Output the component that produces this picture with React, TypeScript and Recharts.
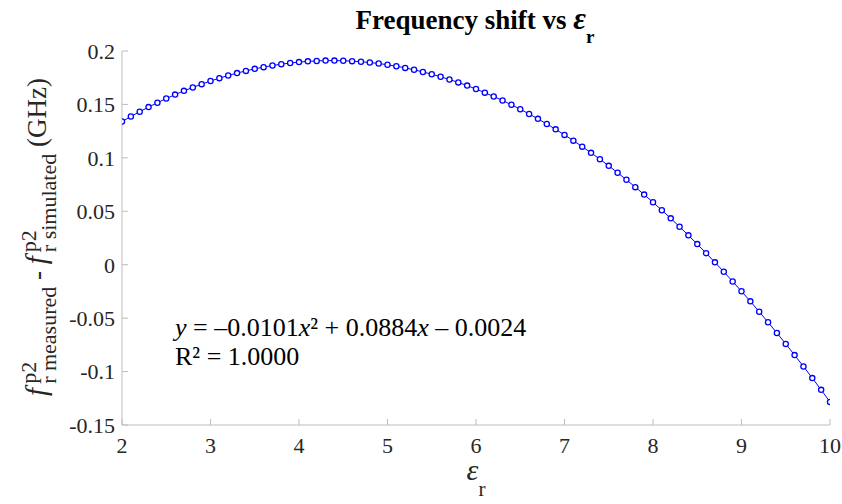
import React from 'react';
import { LineChart, Line, XAxis, YAxis } from 'recharts';

// relative permittivity (x) sampled every 0.1
const epsR = [
  2.0, 2.1, 2.2, 2.3, 2.4, 2.5, 2.6, 2.7, 2.8, 2.9,
  3.0, 3.1, 3.2, 3.3, 3.4, 3.5, 3.6, 3.7, 3.8, 3.9,
  4.0, 4.1, 4.2, 4.3, 4.4, 4.5, 4.6, 4.7, 4.8, 4.9,
  5.0, 5.1, 5.2, 5.3, 5.4, 5.5, 5.6, 5.7, 5.8, 5.9,
  6.0, 6.1, 6.2, 6.3, 6.4, 6.5, 6.6, 6.7, 6.8, 6.9,
  7.0, 7.1, 7.2, 7.3, 7.4, 7.5, 7.6, 7.7, 7.8, 7.9,
  8.0, 8.1, 8.2, 8.3, 8.4, 8.5, 8.6, 8.7, 8.8, 8.9,
  9.0, 9.1, 9.2, 9.3, 9.4, 9.5, 9.6, 9.7, 9.8, 9.9,
  10.0,
];

// measured - simulated frequency shift (GHz)
const shiftGHz = [
  0.1340, 0.1387, 0.1432, 0.1475, 0.1516, 0.1555, 0.1592, 0.1627, 0.1659, 0.1690,
  0.1719, 0.1746, 0.1771, 0.1793, 0.1814, 0.1833, 0.1849, 0.1864, 0.1877, 0.1887,
  0.1896, 0.1903, 0.1907, 0.1910, 0.1910, 0.1909, 0.1905, 0.1900, 0.1892, 0.1883,
  0.1871, 0.1857, 0.1842, 0.1824, 0.1804, 0.1783, 0.1759, 0.1733, 0.1706, 0.1676,
  0.1644, 0.1610, 0.1574, 0.1537, 0.1497, 0.1455, 0.1411, 0.1365, 0.1317, 0.1267,
  0.1215, 0.1161, 0.1105, 0.1047, 0.0987, 0.0925, 0.0861, 0.0795, 0.0726, 0.0656,
  0.0584, 0.0510, 0.0434, 0.0355, 0.0275, 0.0193, 0.0108, 0.0022, -0.0066, -0.0157,
  -0.0249, -0.0343, -0.0440, -0.0538, -0.0639, -0.0741, -0.0846, -0.0952, -0.1061, -0.1171,
  -0.1284,
];

const xTicks = [2, 3, 4, 5, 6, 7, 8, 9, 10];
const yTicks = [-0.15, -0.1, -0.05, 0, 0.05, 0.1, 0.15, 0.2];

const data = epsR.map((x, i) => ({ x, y: shiftGHz[i] }));

const FONT = 'Liberation Serif';
const AXIS_COLOR = '#bdbdbd';
const TEXT_COLOR = '#262626';

const tickStyle = { fontFamily: FONT, fontSize: 22, fill: TEXT_COLOR };

export default function App() {
  return (
    <div style={{ position: 'relative', width: 842, height: 504, background: '#fff' }}>
      <style>{'body{margin:0}'}</style>
      <LineChart
        width={842}
        height={504}
        data={data}
        margin={{ top: 51, right: 12, left: 0, bottom: 0 }}
      >
        <XAxis
          dataKey="x"
          type="number"
          domain={[2, 10]}
          ticks={xTicks}
          height={79}
          stroke={AXIS_COLOR}
          tickSize={-6}
          tickMargin={18}
          tick={tickStyle}
          allowDataOverflow
        />
        <XAxis
          xAxisId="top"
          dataKey="x"
          type="number"
          orientation="top"
          domain={[2, 10]}
          ticks={xTicks}
          height={0}
          stroke={AXIS_COLOR}
          tickSize={-6}
          tick={false}
        />
        <YAxis
          type="number"
          domain={[-0.15, 0.2]}
          ticks={yTicks}
          width={122}
          stroke={AXIS_COLOR}
          tickSize={-6}
          tickMargin={13}
          tick={tickStyle}
          allowDataOverflow
        />
        <YAxis
          yAxisId="right"
          type="number"
          orientation="right"
          domain={[-0.15, 0.2]}
          ticks={yTicks}
          width={0}
          stroke={AXIS_COLOR}
          tickSize={-6}
          tick={false}
        />
        <Line
          type="linear"
          dataKey="y"
          stroke="#0000ff"
          strokeWidth={1}
          dot={{ r: 2.6, stroke: '#0000ff', strokeWidth: 1.3, fill: '#fff' }}
          isAnimationActive={false}
        />
      </LineChart>

      <svg
        width={842}
        height={504}
        style={{ position: 'absolute', left: 0, top: 0, pointerEvents: 'none' }}
      >
        {/* title */}
        <text x={475} y={29} textAnchor="middle" fontFamily={FONT} fontSize={27} fontWeight="bold" fill="#000">
          Frequency shift vs{' '}
          <tspan fontStyle="italic" fontSize={31}>ε</tspan>
          <tspan fontSize={19} dy={14}>r</tspan>
        </text>

        {/* x label */}
        <text x={476} y={480} textAnchor="middle" fontFamily={FONT} fontSize={30} fill={TEXT_COLOR}>
          <tspan fontStyle="italic">ε</tspan>
          <tspan fontSize={21} dy={16}>r</tspan>
        </text>

        {/* y label */}
        <text
          transform="rotate(-90)"
          x={-237}
          y={46}
          textAnchor="middle"
          fontFamily={FONT}
          fontSize={27}
          fill={TEXT_COLOR}
        >
          <tspan fontStyle="italic" fontSize={29}>f</tspan>
          <tspan fontSize={22} dx={4} dy={-10}>p2</tspan>
          <tspan fontSize={22} dx={-22} dy={20}>r measured</tspan>
          <tspan dy={-10}> - </tspan>
          <tspan fontStyle="italic" fontSize={29}>f</tspan>
          <tspan fontSize={22} dx={4} dy={-10}>p2</tspan>
          <tspan fontSize={22} dx={-22} dy={20}>r simulated</tspan>
          <tspan dy={-10}> (GHz)</tspan>
        </text>

        {/* fit annotation */}
        <text x={175} y={336} fontFamily={FONT} fontSize={26} fill="#000">
          <tspan fontStyle="italic">y</tspan> = –0.0101<tspan fontStyle="italic">x</tspan>² + 0.0884
          <tspan fontStyle="italic">x</tspan> – 0.0024
        </text>
        <text x={175} y={365} fontFamily={FONT} fontSize={26} fill="#000">
          R² = 1.0000
        </text>
      </svg>
    </div>
  );
}
